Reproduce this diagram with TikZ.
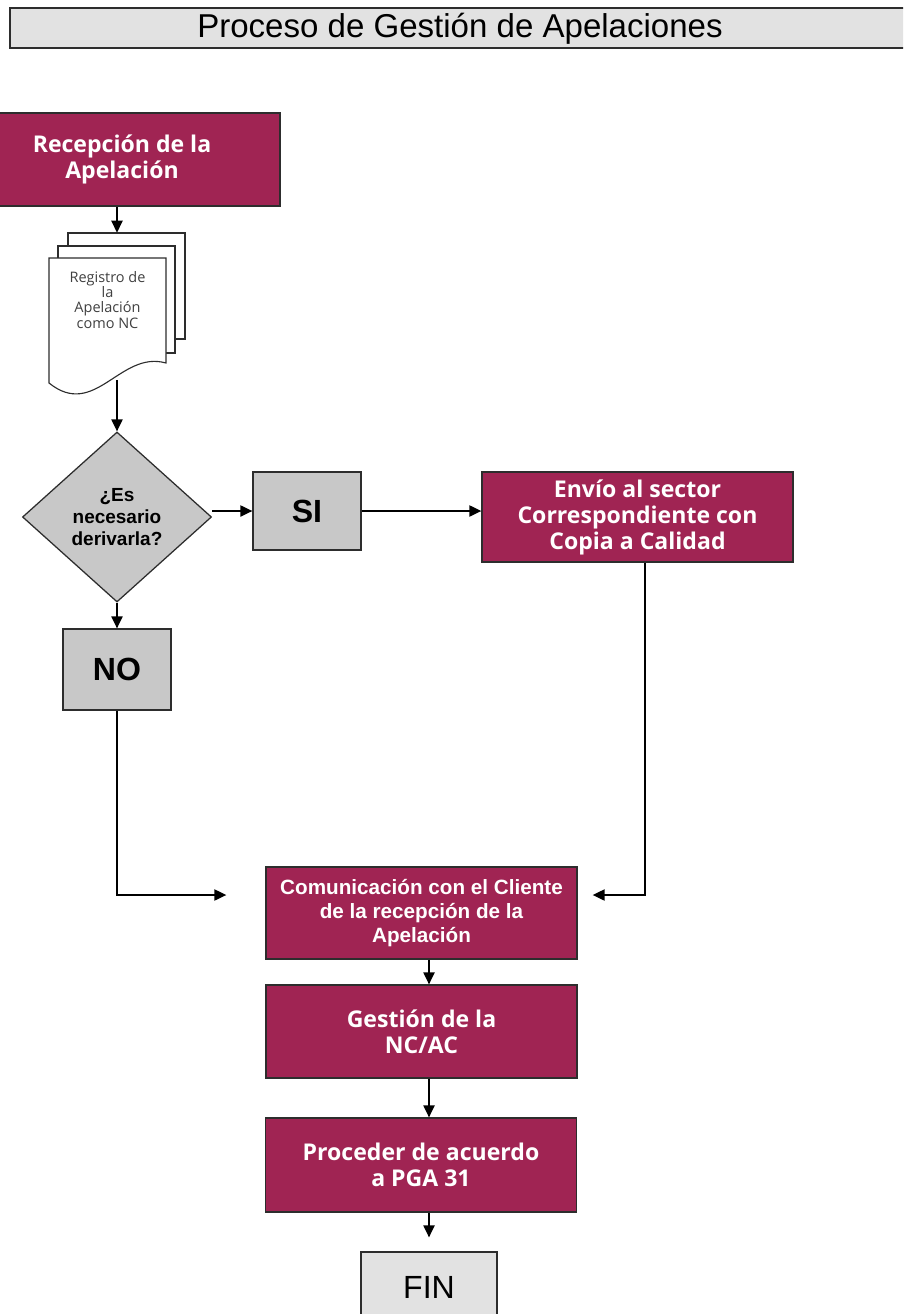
\documentclass[tikz,border=0pt]{standalone}
\usepackage{fontspec}
\setmainfont{Liberation Sans}
\newfontfamily\opensans{Open Sans}
\usepackage{tikz}
\usetikzlibrary{arrows.meta,shapes.geometric}

\definecolor{vino}{RGB}{160,36,83}
\definecolor{grisclaro}{RGB}{226,226,226}
\definecolor{gris}{RGB}{200,200,200}
\definecolor{borde}{RGB}{45,45,45}

\begin{document}
\begin{tikzpicture}[
    x=0.025cm, y=-0.025cm,
    >={Triangle[length=0.3cm,width=0.28cm]},
    flow/.style={->, line width=1.1pt},
    proc/.style={draw=borde, line width=0.9pt, fill=vino, text=white,
      align=center, inner sep=0pt, minimum width=7.775cm,
      font=\opensans\bfseries\fontsize{16.4}{18.5}\selectfont},
    answer/.style={draw=borde, line width=0.9pt, fill=gris,
      minimum width=2.7cm, font=\bfseries\fontsize{22.8}{26}\selectfont},
    decision/.style={diamond, draw=borde, line width=0.9pt, fill=gris,
      align=center, inner sep=0pt, minimum width=4.725cm,
      minimum height=4.25cm, font=\bfseries\fontsize{13.5}{15.4}\selectfont},
    page/.style={draw=borde, line width=0.8pt, fill=white},
  ]
  \useasboundingbox (0,0) rectangle (903,1314);
  \clip (0,0) rectangle (903,1314);

  % Title
  \node[draw=borde, line width=0.9pt, fill=grisclaro, minimum width=22.5cm,
    minimum height=1cm, text height=0.58cm, text depth=0.12cm,
    font=\fontsize{23.5}{26}\selectfont]
    (titulo) at (460,28) {Proceso de Gestión de Apelaciones};

  % Start
  \node[proc, minimum width=7.9cm, minimum height=2.325cm]
    (recepcion) at (122,159.5) {Recepción de la\\Apelación};

  % Document stack
  \draw[page] (68,233) rectangle (185,339);
  \draw[page] (58,246) rectangle (175,353);
  \draw[page] (49,258) -- (166,258) -- (166,363)
    .. controls (120,350) and (95,420) .. (49,383) -- cycle;
  \node[align=center, text=black!75,
    font=\opensans\fontsize{10.3}{10.7}\selectfont]
    (regtexto) at (107.5,300) {Registro de\\la\\Apelación\\como NC};
  \node[inner sep=0pt, minimum width=3.4cm, minimum height=3.675cm]
    (registro) at (117,306.5) {};

  % Decision
  \node[decision] (pregunta) at (117,517) {¿Es\\necesario\\derivarla?};
  \node[answer, minimum height=1.95cm] (si) at (307,511) {SI};
  \node[answer, minimum height=2.025cm] (no) at (117,669.5) {NO};

  \node[proc, minimum height=2.25cm]
    (envio) at (637.5,517) {Envío al sector\\Correspondiente con\\Copia a Calidad};

  % Main column
  \node[proc, minimum height=2.3cm,
    font=\bfseries\fontsize{14.7}{17}\selectfont]
    (comunicacion) at (421.5,913)
    {Comunicación con el Cliente\\de la recepción de la\\Apelación};
  \node[proc, minimum height=2.325cm]
    (gestion) at (421.5,1031.5) {Gestión de la\\NC/AC};
  \node[proc, minimum height=2.35cm]
    (proceder) at (421,1165) {Proceder de acuerdo\\a PGA 31};
  \node[draw=borde, line width=0.9pt, fill=grisclaro, minimum width=3.4cm,
    minimum height=1.75cm, font=\fontsize{22.8}{26}\selectfont]
    (fin) at (429,1287) {FIN};

  \coordinate (der) at (645,895);
  \coordinate (izq) at (117,895);

  % Edges
  \draw[flow] (recepcion.south -| registro.north) -- (registro.north);
  \draw[flow] (registro.south) -- (pregunta.north);
  \draw[flow] (si.west -| pregunta.east) -- (si.west);
  \draw[flow] (pregunta.south) -- (no.north);
  \draw[flow] (si.east) -- (si.east -| envio.west);
  \draw[flow, shorten >=0.375cm] (envio.south -| der) -- (der)
    -- (comunicacion.east |- der);
  \draw[flow, shorten >=0.975cm] (no.south) -- (izq)
    -- (comunicacion.west |- izq);
  \draw[flow] (comunicacion.south -| fin.north) -- (gestion.north -| fin.north);
  \draw[flow] (gestion.south -| fin.north) -- (proceder.north -| fin.north);
  \draw[flow, shorten >=0.35cm] (proceder.south -| fin.north) -- (fin.north);
\end{tikzpicture}
\end{document}
